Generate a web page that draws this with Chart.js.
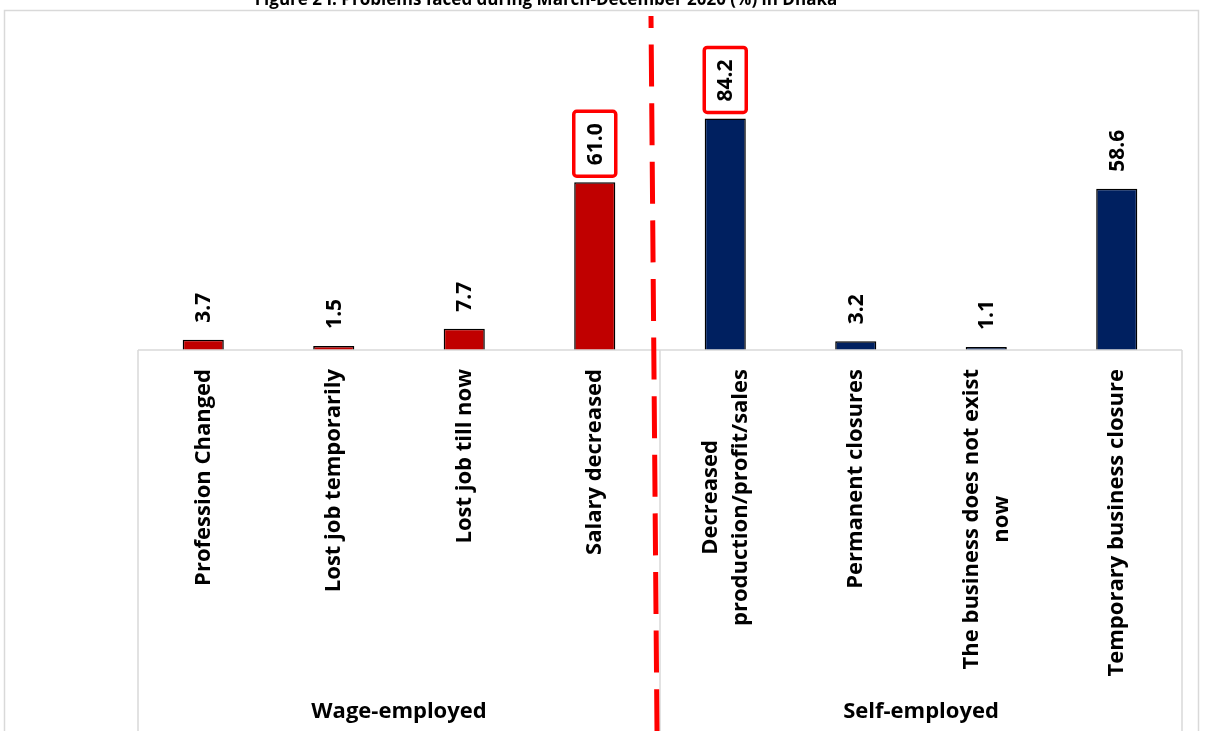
<html><head><script src="https://cdn.jsdelivr.net/npm/chart.js@4.4.3/dist/chart.umd.min.js"></script></head>
<body style="margin:0;background:#fff">
<canvas id="mychart" width="1206" height="731"></canvas>
<script>
// data
const categories = [
  ['Profession Changed'],
  ['Lost job temporarily'],
  ['Lost job till now'],
  ['Salary decreased'],
  ['Decreased', 'production/profit/sales'],
  ['Permanent closures'],
  ['The business does not exist', 'now'],
  ['Temporary business closure']
]
const groups = ['Wage-employed', 'Wage-employed', 'Wage-employed', 'Wage-employed',
                'Self-employed', 'Self-employed', 'Self-employed', 'Self-employed']
const values = [3.7, 1.5, 7.7, 61.0, 84.2, 3.2, 1.1, 58.6]
const boxed = [false, false, false, true, true, false, false, false]
const titleText = 'Figure 2 I: Problems faced during March-December 2020 (%) in Dhaka'

const groupColors = { 'Wage-employed': '#C00000', 'Self-employed': '#002060' }
const FONT = '"Open Sans", "DejaVu Sans", sans-serif'
const GRID = '#d9d9d9'

// axis labels, value labels, separators, title
const decorations = {
  id: 'decorations',
  afterDatasetsDraw(chart) {
    const ctx = chart.ctx
    const xs = chart.scales.x, ys = chart.scales.y
    const area = chart.chartArea
    const base = ys.getPixelForValue(0)
    const half = (xs.getPixelForValue(1) - xs.getPixelForValue(0)) / 2
    ctx.save()

    // outer frame
    ctx.strokeStyle = GRID; ctx.lineWidth = 1.5
    ctx.strokeRect(4.5, 10.5, 1194, 760)

    // title (mostly above the top edge)
    ctx.fillStyle = '#000'
    ctx.font = 'bold 17px ' + FONT
    ctx.textAlign = 'center'; ctx.textBaseline = 'alphabetic'
    ctx.fillText(titleText, 546, 5)

    // category axis lines
    ctx.strokeStyle = GRID; ctx.lineWidth = 1.5
    ctx.beginPath()
    ctx.moveTo(area.left, base); ctx.lineTo(area.right, base)
    const bounds = [area.left]
    for (let i = 1; i < groups.length; i++) {
      if (groups[i] !== groups[i - 1]) bounds.push(xs.getPixelForValue(i) - half)
    }
    bounds.push(area.right)
    bounds.forEach(b => { ctx.moveTo(b, base); ctx.lineTo(b, chart.height) })
    ctx.stroke()

    // category labels, rotated, lines centred on the longest one
    ctx.font = 'bold 22px ' + FONT
    ctx.fillStyle = '#000'
    categories.forEach((lines, i) => {
      const x = xs.getPixelForValue(i)
      const longest = Math.max(...lines.map(l => ctx.measureText(l).width))
      ctx.save()
      ctx.translate(x, base + 19)
      ctx.rotate(-Math.PI / 2)
      ctx.textAlign = 'center'; ctx.textBaseline = 'middle'
      lines.forEach((l, k) => {
        ctx.fillText(l, -longest / 2, (k - (lines.length - 1) / 2) * 30)
      })
      ctx.restore()
    })

    // group labels
    ctx.textAlign = 'center'; ctx.textBaseline = 'middle'
    let start = 0
    for (let i = 1; i <= groups.length; i++) {
      if (i === groups.length || groups[i] !== groups[start]) {
        const cx = (xs.getPixelForValue(start) + xs.getPixelForValue(i - 1)) / 2
        ctx.fillText(groups[start], cx, 712)
        start = i
      }
    }

    // value labels
    ctx.font = 'bold 21px ' + FONT
    values.forEach((v, i) => {
      const x = xs.getPixelForValue(i)
      const top = ys.getPixelForValue(v)
      const txt = v.toFixed(1)
      const w = ctx.measureText(txt).width
      const y0 = top - 17
      if (boxed[i]) {
        ctx.fillStyle = '#fff'
        ctx.strokeStyle = '#ff0000'; ctx.lineWidth = 3.5
        ctx.beginPath()
        ctx.roundRect(x - 21, y0 - w - 12, 42, w + 23, 3)
        ctx.fill(); ctx.stroke()
      }
      ctx.save()
      ctx.translate(x, y0)
      ctx.rotate(-Math.PI / 2)
      ctx.fillStyle = '#000'
      ctx.textAlign = 'left'; ctx.textBaseline = 'middle'
      ctx.fillText(txt, 0, 1)
      ctx.restore()
    })

    // red dashed divider between the two groups, starting inside the frame
    const mid = bounds[1]
    ctx.strokeStyle = '#ff0000'; ctx.lineWidth = 5
    ctx.setLineDash([42, 16.6])
    ctx.lineDashOffset = 30
    ctx.beginPath()
    ctx.moveTo(mid - 9, 16); ctx.lineTo(mid - 3, chart.height)
    ctx.stroke()
    ctx.restore()
  }
}

new Chart(document.querySelector('#mychart'), {
  type: 'bar',
  data: {
    labels: categories.map(c => c.join(' ')),
    datasets: [{
      data: values,
      backgroundColor: groups.map(g => groupColors[g]),
      borderColor: '#000',
      borderWidth: 1.5,
      categoryPercentage: 1,
      barPercentage: 0.315
    }]
  },
  options: {
    responsive: false,
    animation: false,
    layout: { padding: { left: 138, right: 24, top: 20, bottom: 381 } },
    scales: {
      x: { display: false },
      y: { display: false, min: 0, max: 120 }
    },
    plugins: { legend: { display: false }, tooltip: { enabled: false } }
  },
  plugins: [decorations]
})
</script>
</body></html>
